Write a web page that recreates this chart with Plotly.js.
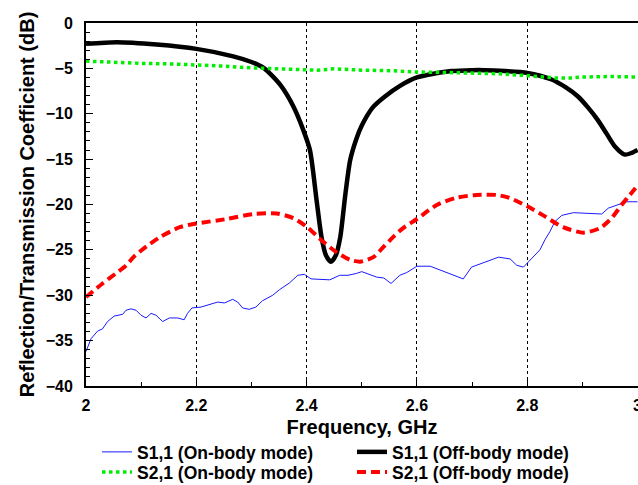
<!DOCTYPE html>
<html>
<head>
<meta charset="utf-8">
<script src="https://cdn.plot.ly/plotly-3.0.1.min.js"></script>
<style>
html,body{margin:0;padding:0;background:#fff;}
#chart{width:638px;height:485px;}
</style>
</head>
<body>
<div id="chart"></div>
<script>
// S1,1 (On-body mode) - blue thin line
const s11OnFreq = [2.000,2.009,2.021,2.030,2.039,2.051,2.0665,2.0725,2.0816,2.0907,2.0997,2.1088,2.118,2.127,2.139,2.151,2.166,2.178,2.184,2.192,2.2085,2.2236,2.2388,2.251,2.266,2.275,2.284,2.296,2.308,2.320,2.3385,2.3505,2.3687,2.384,2.396,2.408,2.429,2.442,2.460,2.475,2.490,2.500,2.527,2.540,2.553,2.569,2.5815,2.600,2.624,2.648,2.684,2.699,2.7266,2.748,2.769,2.781,2.793,2.802,2.811,2.823,2.832,2.841,2.850,2.8626,2.8837,2.914,2.935,2.947,2.968,2.980,3.000];
const s11OnDb = [-36.2,-34.8,-33.95,-33.7,-32.9,-32.3,-32.1,-31.65,-31.5,-31.65,-32.2,-32.5,-32.0,-32.2,-32.9,-32.5,-32.5,-32.7,-32.0,-31.4,-31.3,-31.0,-30.75,-30.85,-30.45,-30.75,-31.4,-31.55,-31.3,-30.6,-30.0,-29.4,-28.65,-27.8,-27.7,-28.2,-28.3,-28.3,-27.8,-27.8,-27.6,-27.4,-28.0,-28.1,-28.7,-27.8,-27.5,-26.8,-26.8,-27.35,-28.2,-26.9,-26.3,-25.8,-26.0,-26.7,-26.9,-26.3,-25.8,-25.0,-23.9,-23.0,-21.9,-21.2,-20.9,-21.0,-21.05,-20.4,-19.9,-19.7,-19.7];

// S1,1 (Off-body mode) - black thick line
const s11OffFreq = [2.000,2.056,2.128,2.200,2.267,2.300,2.322,2.352,2.376,2.394,2.406,2.418,2.427,2.435,2.444,2.453,2.461,2.470,2.479,2.490,2.500,2.520,2.542,2.570,2.600,2.630,2.662,2.700,2.723,2.760,2.800,2.843,2.870,2.892,2.910,2.928,2.945,2.959,2.977,2.990,3.000];
const s11OffDb = [-2.3,-2.12,-2.38,-2.85,-3.67,-4.3,-4.95,-6.8,-9.2,-11.8,-14.0,-19.5,-23.6,-25.6,-26.3,-25.6,-23.6,-19.0,-15.1,-12.8,-11.3,-9.3,-8.1,-6.9,-6.0,-5.6,-5.3,-5.2,-5.2,-5.3,-5.5,-6.2,-7.1,-8.1,-9.3,-10.7,-12.3,-13.6,-14.5,-14.3,-14.0];

// S2,1 (On-body mode) - green dotted line
const s21OnFreq = [2.00,2.05,2.10,2.15,2.20,2.25,2.30,2.35,2.40,2.42,2.45,2.50,2.55,2.60,2.65,2.70,2.75,2.80,2.85,2.88,2.90,2.95,3.00];
const s21OnDb = [-4.2,-4.35,-4.45,-4.5,-4.6,-4.75,-4.95,-5.05,-5.2,-5.2,-5.05,-5.2,-5.25,-5.4,-5.45,-5.5,-5.6,-5.8,-6.05,-6.05,-5.95,-5.9,-5.95];

// S2,1 (Off-body mode) - red dashed line
const s21OffFreq = [2.000,2.030,2.054,2.073,2.086,2.110,2.134,2.170,2.200,2.255,2.303,2.346,2.376,2.400,2.430,2.455,2.479,2.497,2.521,2.539,2.560,2.575,2.600,2.636,2.672,2.708,2.745,2.769,2.800,2.829,2.865,2.902,2.932,2.953,2.971,2.986,3.000];
const s21OffDb = [-30.2,-28.7,-27.6,-26.7,-25.8,-24.6,-23.6,-22.5,-22.1,-21.6,-21.05,-21.0,-21.5,-22.45,-24.1,-25.3,-26.1,-26.3,-25.8,-24.7,-23.4,-22.6,-21.6,-20.05,-19.25,-18.95,-18.95,-19.3,-20.2,-21.2,-22.5,-23.1,-22.6,-21.5,-20.05,-18.95,-17.9];

const seriesNames = ['S1,1 (On-body mode)','S1,1 (Off-body mode)','S2,1 (On-body mode)','S2,1 (Off-body mode)'];
const yTickVals = [0,-5,-10,-15,-20,-25,-30,-35,-40];
const xTickVals = [2,2.2,2.4,2.6,2.8,3];

const FONT = 'Liberation Sans, Arial, Helvetica, sans-serif';

const data = [
  {x:s11OnFreq, y:s11OnDb, name:seriesNames[0], type:'scatter', mode:'lines',
   line:{color:'#1a1aff', width:1}, legend:'legend'},
  {x:s11OffFreq, y:s11OffDb, name:seriesNames[1], type:'scatter', mode:'lines',
   line:{color:'#000000', width:4.5, shape:'spline', smoothing:0.7}, legend:'legend'},
  {x:s21OnFreq, y:s21OnDb, name:seriesNames[2], type:'scatter', mode:'lines',
   line:{color:'#00ee00', width:3.5, dash:'dot'}, legend:'legend2'},
  {x:s21OffFreq, y:s21OffDb, name:seriesNames[3], type:'scatter', mode:'lines',
   line:{color:'#ff0000', width:4, dash:'9px,5px', shape:'spline', smoothing:0.7}, legend:'legend2'}
];

// plot area: left 86, right 638, top 23, bottom 386 (552 x 363 px)
const legendCommon = {
  orientation:'h', xref:'paper', yref:'paper', xanchor:'left', yanchor:'middle',
  entrywidth:210, entrywidthmode:'pixels', itemwidth:30,
  font:{family:FONT, size:17.5, color:'#000', weight:'bold'},
  bgcolor:'rgba(0,0,0,0)', borderwidth:0, traceorder:'normal'
};

const layout = {
  width:638, height:485,
  margin:{l:86, r:0, t:23, b:99, pad:0, autoexpand:false},
  paper_bgcolor:'#fff', plot_bgcolor:'#fff',
  font:{family:FONT, color:'#000', weight:'bold'},
  showlegend:true,
  legend:Object.assign({}, legendCommon, {x:(97-86)/552, y:(386-452)/363}),
  legend2:Object.assign({}, legendCommon, {x:(97-86)/552, y:(386-472)/363}),
  xaxis:{
    range:[2,3.0008], tickvals:xTickVals, ticks:'inside', ticklen:7, tickwidth:1, tickcolor:'#000',
    showline:true, linecolor:'#000', linewidth:2, mirror:true,
    showgrid:true, gridcolor:'#000', gridwidth:1, griddash:'dot',
    zeroline:false, ticklabelstandoff:4, ticklabeloverflow:'allow',
    tickfont:{family:FONT, size:16, color:'#000', weight:'bold'},
    minor:{dtick:0.1, ticks:'inside', ticklen:4, tickcolor:'#000', tickwidth:1, showgrid:false},
    title:{text:'Frequency, GHz', font:{family:FONT, size:20, color:'#000', weight:'bold'}, standoff:7},
    automargin:'height', fixedrange:true
  },
  yaxis:{
    range:[-40,0], tickvals:yTickVals, ticks:'inside', ticklen:7, tickwidth:1, tickcolor:'#000',
    showline:true, linecolor:'#000', linewidth:2, mirror:false,
    showgrid:false, zeroline:false, ticklabelstandoff:8,
    tickfont:{family:FONT, size:16, color:'#000', weight:'bold'},
    minor:{dtick:1, ticks:'inside', ticklen:4, tickcolor:'#000', tickwidth:1, showgrid:false},
    title:{text:'Reflection/Transmission Coefficient (dB)', font:{family:FONT, size:20, color:'#000', weight:'bold'}, standoff:6},
    automargin:false, fixedrange:true
  }
};

Plotly.newPlot('chart', data, layout, {staticPlot:true, displayModeBar:false});
</script>
</body>
</html>
